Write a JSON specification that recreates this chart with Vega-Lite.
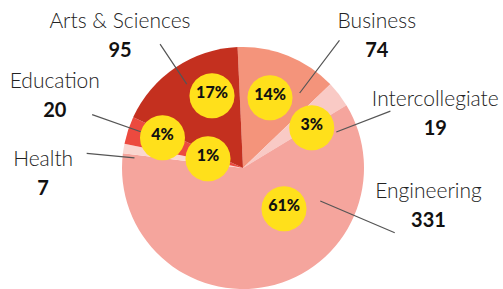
{
  "$schema": "https://vega.github.io/schema/vega-lite/v6.json",
  "width": 486,
  "height": 242,
  "autosize": "none",
  "padding": {"left": 0, "top": 47, "right": 17, "bottom": 0},
  "background": "white",
  "config": {"view": {"stroke": null}},
  "data": {"values": [
    {"category": "Business", "count": 74, "share": 0.14},
    {"category": "Intercollegiate", "count": 19, "share": 0.03},
    {"category": "Engineering", "count": 331, "share": 0.61},
    {"category": "Health", "count": 7, "share": 0.01},
    {"category": "Education", "count": 20, "share": 0.04},
    {"category": "Arts & Sciences", "count": 95, "share": 0.17}
  ]},
  "transform": [
    {"window": [{"op": "row_number", "as": "idx"}]},
    {"stack": "count", "groupby": [], "sort": [{"field": "idx", "order": "ascending"}], "as": ["start", "end"]}
  ],
  "layer": [
    {
      "mark": {"type": "arc", "radius": 121},
      "encoding": {
        "theta": {"field": "count", "type": "quantitative", "stack": true, "scale": {"range": [-0.045, 6.2382]}},
        "order": {"field": "idx", "type": "quantitative"},
        "color": {"field": "category", "type": "nominal", "legend": null,
          "scale": {"domain": ["Business", "Intercollegiate", "Engineering", "Health", "Education", "Arts & Sciences"],
                    "range": ["#F4947B", "#F9CAC5", "#F5A59D", "#FAD6D0", "#EC4A3F", "#C4301F"]}}
      }
    },
    {
      "mark": {"type": "arc", "stroke": "#555555", "strokeWidth": 1.2, "fillOpacity": 0,
        "radius": {"expr": "datum.category==='Business'?160:datum.category==='Intercollegiate'?158:datum.category==='Engineering'?165:datum.category==='Health'?157:datum.category==='Education'?160:149"},
        "radius2": {"expr": "datum.category==='Business'?94:datum.category==='Intercollegiate'?100:datum.category==='Engineering'?84:datum.category==='Health'?109:datum.category==='Education'?107:101"},
        "thetaOffset": {"expr": "datum.category==='Business'?0.692:datum.category==='Intercollegiate'?0.396:datum.category==='Engineering'?0.949:datum.category==='Health'?-0.028:datum.category==='Education'?0.138:0.548"},
        "theta2Offset": {"expr": "datum.category==='Business'?0.692:datum.category==='Intercollegiate'?0.396:datum.category==='Engineering'?0.949:datum.category==='Health'?-0.028:datum.category==='Education'?0.138:0.548"}
      },
      "encoding": {
        "theta": {"field": "start", "type": "quantitative", "stack": null},
        "theta2": {"field": "start"}
      }
    },
    {
      "mark": {"type": "text", "text": "●", "font": "DejaVu Sans", "fontSize": 59, "color": "#FFE01B", "baseline": "middle", "align": "center",
        "radius": {"expr": "datum.category==='Business'?78:datum.category==='Intercollegiate'?81:datum.category==='Engineering'?56:datum.category==='Health'?37:datum.category==='Education'?87:81"},
        "thetaOffset": {"expr": "datum.category==='Business'?-0.027:datum.category==='Intercollegiate'?0.098:datum.category==='Engineering'?-0.612:datum.category==='Health'?0.168:datum.category==='Education'?0.07:0.199"}
      },
      "encoding": {
        "theta": {"field": "count", "type": "quantitative", "stack": true},
        "order": {"field": "idx", "type": "quantitative"}
      }
    },
    {
      "mark": {"type": "text", "font": "Lato", "fontWeight": 900, "fontSize": 16, "color": "#111111", "baseline": "middle", "align": "center",
        "radius": {"expr": "datum.category==='Business'?78:datum.category==='Intercollegiate'?81:datum.category==='Engineering'?56:datum.category==='Health'?37:datum.category==='Education'?87:81"},
        "thetaOffset": {"expr": "datum.category==='Business'?-0.027:datum.category==='Intercollegiate'?0.098:datum.category==='Engineering'?-0.612:datum.category==='Health'?0.168:datum.category==='Education'?0.07:0.199"}
      },
      "encoding": {
        "theta": {"field": "count", "type": "quantitative", "stack": true},
        "order": {"field": "idx", "type": "quantitative"},
        "text": {"field": "share", "type": "quantitative", "format": ".0%"}
      }
    },
    {
      "mark": {"type": "text", "font": "Lato", "fontWeight": 300, "fontSize": 21, "color": "#222222", "baseline": "middle", "align": "center",
        "radius": {"expr": "datum.category==='Business'?198:datum.category==='Intercollegiate'?204:datum.category==='Engineering'?187:datum.category==='Health'?200:datum.category==='Education'?207:191"},
        "thetaOffset": {"expr": "datum.category==='Business'?0.3615:datum.category==='Intercollegiate'?0.3146:datum.category==='Engineering'?-1.2301:datum.category==='Health'?-0.1221:datum.category==='Education'?0.1118:-0.1083"}
      },
      "encoding": {
        "theta": {"field": "count", "type": "quantitative", "stack": true},
        "order": {"field": "idx", "type": "quantitative"},
        "text": {"field": "category", "type": "nominal"}
      }
    },
    {
      "mark": {"type": "text", "font": "Lato", "fontWeight": "bold", "fontSize": 20, "color": "#111111", "baseline": "middle", "align": "center", "dy": 29,
        "radius": {"expr": "datum.category==='Business'?198:datum.category==='Intercollegiate'?204:datum.category==='Engineering'?187:datum.category==='Health'?200:datum.category==='Education'?207:191"},
        "thetaOffset": {"expr": "datum.category==='Business'?0.3615:datum.category==='Intercollegiate'?0.3146:datum.category==='Engineering'?-1.2301:datum.category==='Health'?-0.1221:datum.category==='Education'?0.1118:-0.1083"}
      },
      "encoding": {
        "theta": {"field": "count", "type": "quantitative", "stack": true},
        "order": {"field": "idx", "type": "quantitative"},
        "text": {"field": "count", "type": "quantitative"}
      }
    }
  ]
}
